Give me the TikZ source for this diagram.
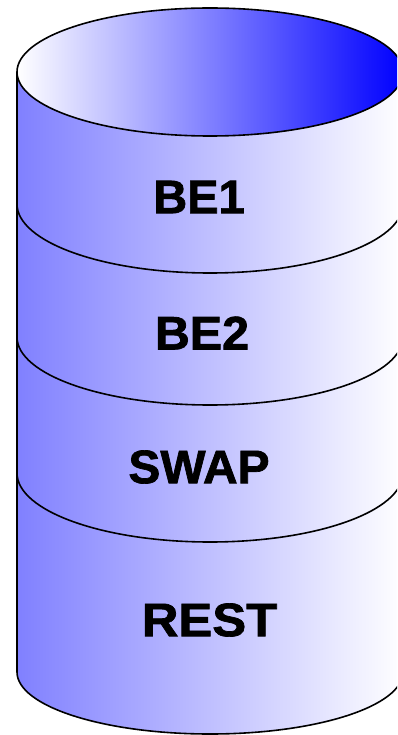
\documentclass[tikz,border=0pt]{standalone}
\usepackage{fontspec}
\setmainfont{Liberation Sans}
\newfontfamily\heavyfont[FakeBold=1.5]{Liberation Sans Bold}
\begin{document}
\begin{tikzpicture}[x=1pt,y=-1pt,
  outline/.style={draw=black,line width=1.6pt},
  layer/.style={font=\fontsize{47}{47}\selectfont\heavyfont,inner sep=0pt,anchor=center},
  bodyshade/.style={left color={rgb,255:red,128;green,128;blue,255},right color=white},
  topshade/.style={left color=white,right color=blue}]
\useasboundingbox (0,0) rectangle (397,735);
\clip (0,0) rectangle (397,735);
% cylinder body with its rounded bottom
\path[bodyshade] (17,72) -- (17,672)
  arc[start angle=180,end angle=0,x radius=193,y radius=62] -- (403,72) -- cycle;
\draw[outline] (17,72) -- (17,672)
  arc[start angle=180,end angle=0,x radius=193,y radius=62] -- (403,72);
% partition boundaries
\draw[outline] (17,204) arc[start angle=180,end angle=0,x radius=193,y radius=69];
\draw[outline] (17,337) arc[start angle=180,end angle=0,x radius=193,y radius=68];
\draw[outline] (17,473) arc[start angle=180,end angle=0,x radius=193,y radius=69];
% top face
\draw[outline,topshade] (210,72) ellipse[x radius=193,y radius=64];
% partition labels
\node[layer] (be1) at (199,197) {BE1};
\node[layer,xscale=1.03] (be2) at (202,333) {BE2};
\node[layer,xscale=1.02] (swap) at (199,467) {SWAP};
\node[layer,xscale=1.08] (rest) at (209.5,620) {REST};
\end{tikzpicture}
\end{document}
